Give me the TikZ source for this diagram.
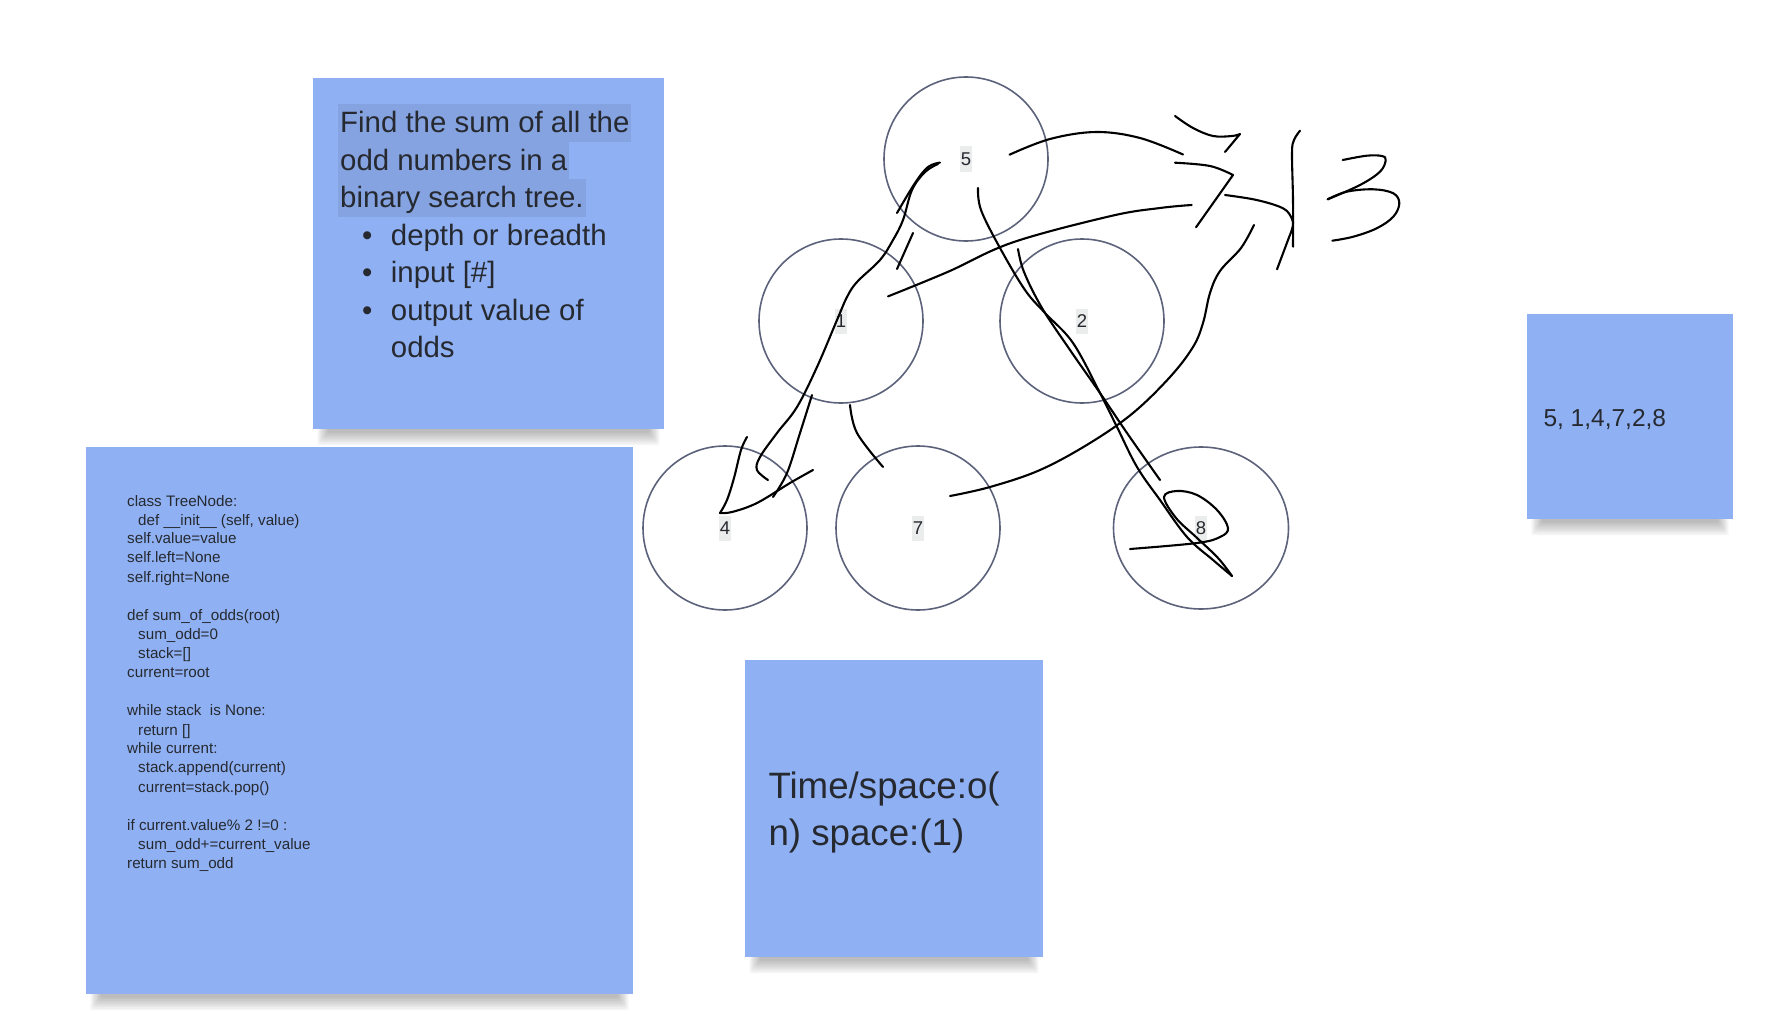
\documentclass[tikz,border=0pt]{standalone}
\usepackage{fontspec}
\setmainfont{Liberation Sans}
\usetikzlibrary{shapes.geometric}
\definecolor{sticky}{RGB}{143,177,243}
\definecolor{hl}{RGB}{133,163,224}
\definecolor{ink}{RGB}{38,41,48}
\definecolor{ring}{RGB}{92,98,122}
\definecolor{tagbg}{RGB}{235,236,236}
\newcommand\noteshadow[4]{%
  \foreach \k in {1,...,9}{%
    \fill[black,opacity=0.03,rounded corners=2pt] ({#1+16-1.3*\k},{#4-12}) rectangle ({#3-16+1.3*\k},{#4+2+1.6*\k});
  }}
\tikzset{
  note/.style={fill=sticky, draw=none, inner sep=0pt, anchor=north west},
  ringnode/.style={circle, draw=ring, line width=1.6pt, minimum size=164pt, inner sep=0pt},
  tag/.style={fill=tagbg, text=ink, inner sep=0pt, minimum width=12.5pt, minimum height=25pt, font=\fontsize{18.5pt}{20pt}\selectfont},
  tasktxt/.style={anchor=base west, text=ink, inner sep=0pt, font=\fontsize{29.4pt}{37.5pt}\selectfont},
  taskhl/.style={tasktxt, fill=hl, inner xsep=2pt, inner ysep=0pt, text height=28.5pt, text depth=9pt},
  codetxt/.style={anchor=base west, text=ink, inner sep=0pt, font=\fontsize{15.2pt}{19pt}\selectfont},
  bigtxt/.style={anchor=base west, text=ink, inner sep=0pt, font=\fontsize{36.7pt}{46pt}\selectfont},
  midtxt/.style={anchor=base west, text=ink, inner sep=0pt, font=\fontsize{24.5pt}{30pt}\selectfont},
  scrib/.style={draw=black, line width=2.1pt, line cap=round, line join=round}
}
\begin{document}
\begin{tikzpicture}[x=1pt,y=-1pt]
\useasboundingbox (0,0) rectangle (1780,1014);
\fill[white] (0,0) rectangle (1780,1014);

% ---- sticky notes ----
\noteshadow{313}{78}{664}{429}
\node[note, minimum width=351pt, minimum height=351pt] (task) at (313,78) {};
\noteshadow{86}{447}{633}{994}
\node[note, minimum width=547pt, minimum height=547pt] (code) at (86,447) {};
\noteshadow{745}{660}{1043}{957}
\node[note, minimum width=298pt, minimum height=297pt] (cplx) at (745,660) {};
\noteshadow{1527}{314}{1733}{519}
\node[note, minimum width=206pt, minimum height=205pt] (order) at (1527,314) {};

% ---- task text ----
\node[taskhl] (t1) at (338,132.7) {Find the sum of all the};
\node[taskhl] (t2) at (338,170) {odd numbers in a};
\node[taskhl] (t3) at (338,207.5) {binary search tree.};
\node[tasktxt] (b1) at (362,245) {•};
\node[tasktxt] (b1t) at (390.7,245) {depth or breadth};
\node[tasktxt] (b2) at (362,282.5) {•};
\node[tasktxt] (b2t) at (390.7,282.5) {input [\#]};
\node[tasktxt] (b3) at (362,320) {•};
\node[tasktxt] (b3t) at (390.7,320) {output value of};
\node[tasktxt] (b3u) at (390.7,357.5) {odds};

% ---- code text ----
\node[codetxt] (c1) at (127,506.1) {class TreeNode:};
\node[codetxt] (c2) at (138,525) {def \_\_init\_\_ (self, value)};
\node[codetxt] (c3) at (127,543.9) {self.value=value};
\node[codetxt] (c4) at (127,562.9) {self.left=None};
\node[codetxt] (c5) at (127,582.1) {self.right=None};
\node[codetxt] (c7) at (127,620.4) {def sum\_of\_odds(root)};
\node[codetxt] (c8) at (138,639.6) {sum\_odd=0};
\node[codetxt] (c9) at (138,658.6) {stack=[]};
\node[codetxt] (c10) at (127,677.5) {current=root};
\node[codetxt] (c12) at (127,715.7) {while stack~ is None:};
\node[codetxt] (c13) at (138,735) {return []};
\node[codetxt] (c14) at (127,753.9) {while current:};
\node[codetxt] (c15) at (138,772.9) {stack.append(current)};
\node[codetxt] (c16) at (138,792.1) {current=stack.pop()};
\node[codetxt] (c18) at (127,830.4) {if current.value\% 2 !=0 :};
\node[codetxt] (c19) at (138,849.3) {sum\_odd+=current\_value};
\node[codetxt] (c20) at (127,868.6) {return sum\_odd};

% ---- complexity / order ----
\node[bigtxt] (x1) at (768.3,798.3) {Time/space:o(};
\node[bigtxt] (x2) at (768.3,845) {n) space:(1)};
\node[midtxt] (o1) at (1543.3,426.7) {5, 1,4,7,2,8};

% ---- tree ----
\node[ringnode] (n5) at (966,159) {};
\node[ringnode] (n1) at (841,321) {};
\node[ringnode] (n2) at (1082,321) {};
\node[ringnode] (n4) at (725,528) {};
\node[ringnode] (n7) at (918,528) {};
\node[ellipse, draw=ring, line width=1.6pt, minimum width=175pt, minimum height=162pt, inner sep=0pt] (n8) at (1201,528) {};
\node[tag] (l5) at (n5) {5};
\node[tag] (l1) at (n1) {1};
\node[tag] (l2) at (n2) {2};
\node[tag] (l4) at (n4) {4};
\node[tag] (l7) at (n7) {7};
\node[tag] (l8) at (n8) {8};

% ---- hand scribbles ----
\draw[scrib] plot[smooth, tension=0.6] coordinates {(1009.5,154.7) (1050,139) (1096,132) (1140,138) (1183,154.5)};
\draw[scrib] plot[smooth, tension=0.6] coordinates {(1175,116) (1193,128) (1213,136) (1232,136) (1240,134)} -- (1225,152);
\draw[scrib] plot[smooth, tension=0.6] coordinates {(1175,162.7) (1210,166) (1233,175)} -- (1196,227.3);
\draw[scrib] plot[smooth, tension=0.6] coordinates {(888,296.4) (948,271.8) (1013,242.3) (1111,216) (1160,208) (1191.7,205)};
\draw[scrib] plot[smooth, tension=0.6] coordinates {(1225,195) (1256.7,200) (1283,208.3) (1291.7,218.3) (1292.7,226.7) (1288,240) (1277,269.3)};
\draw[scrib] plot[smooth, tension=0.6] coordinates {(1300,130.7) (1294,140) (1292,153) (1293,200) (1293,246.7)};
\draw[scrib] plot[smooth, tension=0.6] coordinates {(1342.7,160) (1366.7,155.7) (1381.7,156) (1385.7,160) (1380,171.7) (1360,185) (1327.7,199.3)};
\draw[scrib] plot[smooth, tension=0.6] coordinates {(1327.7,199.3) (1346.7,191.7) (1373.3,189.3) (1393.3,193.3) (1399.3,203.3) (1393.3,216.7) (1376.7,228.3) (1353.3,236.7) (1332.3,240.7)};
\draw[scrib] plot[smooth, tension=0.6] coordinates {(1254,225) (1241,248) (1220,271) (1210,293) (1203,323) (1193,347) (1170,377) (1133,413) (1090,443) (1040,470) (990,487) (950,496)};
\draw[scrib] plot[smooth, tension=0.6] coordinates {(978,188) (981,210) (1000,248) (1025,290) (1045,313) (1073,343) (1100,393) (1117,427) (1137,467) (1160,500) (1187,537) (1213,560) (1232,576)};
\draw[scrib] plot[smooth, tension=0.6] coordinates {(1232,576) (1218,558) (1196,537) (1176,518) (1164,497) (1177,491) (1197,495) (1217,510) (1228,528) (1220,537) (1197,543) (1130,549)};
\draw[scrib] plot[smooth, tension=0.6] coordinates {(1018,249) (1024,272) (1042,308) (1070,350) (1100,393) (1127,433) (1160,480)};
\draw[scrib] plot[smooth, tension=0.6] coordinates {(940,162.6) (928,167) (915,183) (897,213)};
\draw[scrib] plot[smooth, tension=0.6] coordinates {(938,164) (925,172) (912,190) (903,220) (893,240) (880,260) (857,282) (847,297) (837,320) (817,367) (797,407) (777,433) (760,457) (757,470) (768,480)};
\draw[scrib] (913,233) -- (897,269);
\draw[scrib] plot[smooth, tension=0.6] coordinates {(812,395) (800,433) (787,473) (773,497)};
\draw[scrib] plot[smooth, tension=0.6] coordinates {(747,437) (741,450) (734,478) (727,500) (720,513)};
\draw[scrib] plot[smooth, tension=0.6] coordinates {(720,513) (732,512) (757,503) (790,483) (813,470)};
\draw[scrib] plot[smooth, tension=0.6] coordinates {(850,405) (857,433) (883,467)};
\end{tikzpicture}
\end{document}
